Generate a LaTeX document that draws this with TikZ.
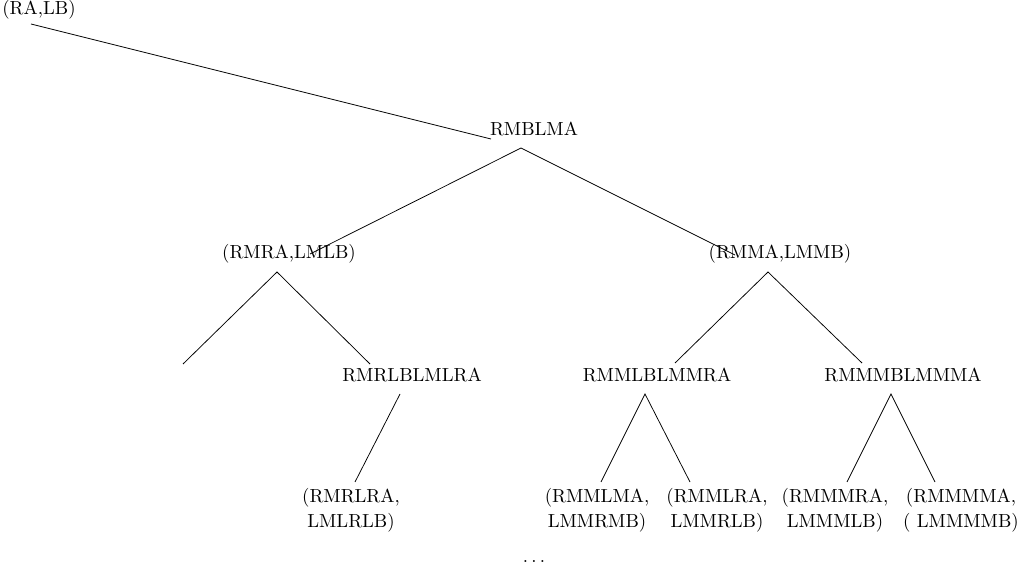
\documentclass[tikz,border=0pt]{standalone}
\begin{document}
\begin{tikzpicture}[x=0.529pt,y=-0.529pt,pair/.style={align=center}]
		\useasboundingbox (0,0) rectangle (1023,575);
		\node (ralb) at (39,10) {(RA,LB)};
		\node (rmblma) at (534,129) {RMBLMA};
		\node (rmra) at (289,254) {(RMRA,LMLB)};
		\node (rmma) at (780,254) {(RMMA,LMMB)};
		\node (rmrl) at (412,375) {RMRLBLMLRA};
		\node (rmml) at (657,375) {RMMLBLMMRA};
		\node (rmmm) at (903,375) {RMMMBLMMMA};
		\node[pair] (rmrlra) at (351,510) {(RMRLRA,\\[1.2pt] LMLRLB)};
		\node[pair] (rmmlma) at (597,510) {(RMMLMA,\\[1.2pt] LMMRMB)};
		\node[pair] (rmmlra) at (717,510) {(RMMLRA,\\[1.2pt] LMMRLB)};
		\node[pair] (rmmmra) at (835,510) {(RMMMRA,\\[1.2pt] LMMMLB)};
		\node[pair] (rmmmma) at (961,510) {(RMMMMA,\\[1.2pt] ( LMMMMB)};
		\node (more) at (534,561) {.\kern1.7pt.\kern1.7pt.};
		\coordinate (ralb-b) at (31,24);
		\coordinate (rmblma-l) at (491,139);
		\coordinate (rmblma-b) at (521,148);
		\coordinate (rmra-t) at (310,254);
		\coordinate (rmma-t) at (735,255);
		\coordinate (rmra-b) at (277,272);
		\coordinate (leaf) at (183,364);
		\coordinate (rmrl-t) at (370,364);
		\coordinate (rmrl-b) at (400,394);
		\coordinate (rmrlra-t) at (355,482);
		\coordinate (rmma-b) at (768,272);
		\coordinate (rmml-t) at (675,363);
		\coordinate (rmmm-t) at (862,363);
		\coordinate (rmml-b) at (645,394);
		\coordinate (rmmlma-t) at (601,482);
		\coordinate (rmmlra-t) at (690,482);
		\coordinate (rmmm-b) at (891,394);
		\coordinate (rmmmra-t) at (847,482);
		\coordinate (rmmmma-t) at (935,482);
		\draw (ralb-b)--(rmblma-l);
		\draw (rmra-t)--(rmblma-b)--(rmma-t);
		\draw (leaf)--(rmra-b)--(rmrl-t);
		\draw (rmrl-b)--(rmrlra-t);
		\draw (rmml-t)--(rmma-b)--(rmmm-t);
		\draw (rmmlma-t)--(rmml-b)--(rmmlra-t);
		\draw (rmmmra-t)--(rmmm-b)--(rmmmma-t);
	\end{tikzpicture}
\end{document}
